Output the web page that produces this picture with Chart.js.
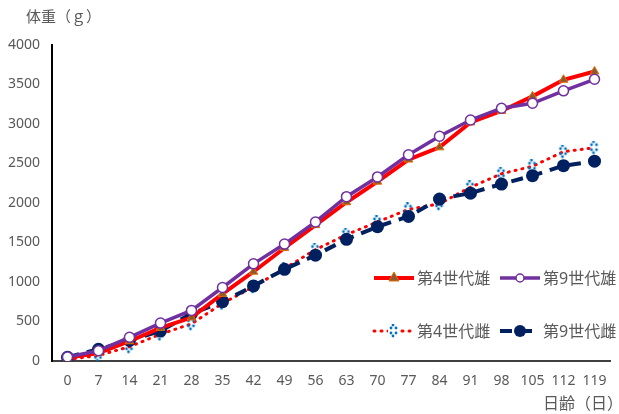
<!DOCTYPE html>
<html><head><meta charset="utf-8">
<script src="https://cdn.jsdelivr.net/npm/chart.js@4"></script>
<style>html,body{margin:0;padding:0;background:#fff}#wrap{width:619px;height:414px;position:relative}</style>
</head><body><div id="wrap"><canvas id="c" width="619" height="414"></canvas></div>
<script>
const days = [0,7,14,21,28,35,42,49,56,63,70,77,84,91,98,105,112,119];
const gen4Male   = [40,100,250,420,550,850,1130,1430,1720,2010,2270,2550,2705,3020,3165,3350,3560,3665];
const gen9Male   = [50,130,300,480,640,930,1230,1480,1760,2080,2330,2610,2845,3050,3200,3262,3420,3566];
const gen4Female = [20,70,180,340,470,730,940,1170,1410,1600,1760,1920,1990,2200,2370,2465,2650,2700];
const gen9Female = [47,148,260,380,600,750,950,1160,1340,1540,1700,1830,2050,2125,2240,2346,2472,2530];
const yTicks = [0,500,1000,1500,2000,2500,3000,3500,4000];
const labels = ['第4世代雄','第9世代雄','第4世代雌','第9世代雌'];
const FONT = "'Noto Sans','Noto Sans CJK JP',sans-serif";
const GRAY = '#595959';

function blueMarker(){
  const c=document.createElement('canvas');c.width=12;c.height=14;
  const x=c.getContext('2d');x.fillStyle='#0070C0';
  [[5,1],[3,4],[8,4],[3,9],[8,9],[5,12]].forEach(p=>{x.beginPath();x.arc(p[0],p[1],1.4,0,Math.PI*2);x.fill();});
  return c;
}
const bm = blueMarker();

const extra = {
  id:'extra',
  afterDraw(chart){
    const ctx=chart.ctx;ctx.save();
    ctx.fillStyle=GRAY;ctx.font="15px "+FONT;ctx.textBaseline='middle';
    ctx.textAlign='left';ctx.fillText('体重（ｇ）',26,18);
    ctx.font="16px "+FONT;
    ctx.fillText('日齢（日）',543,404);
    const rows=[[374,278],[500,278],[374,331],[500,331]];
    const ds=chart.data.datasets;
    rows.forEach((r,i)=>{
      const d=ds[i];const x0=r[0],y=r[1];
      ctx.save();
      ctx.strokeStyle=d.borderColor;ctx.lineWidth=d.borderWidth;
      ctx.setLineDash(d.borderDash||[]);ctx.lineCap=d.borderCapStyle||'butt';
      ctx.beginPath();ctx.moveTo(x0,y);ctx.lineTo(x0+40,y);ctx.stroke();
      ctx.setLineDash([]);
      const cx=x0+20;
      if(i===0){ctx.fillStyle='#8C5A2A';ctx.strokeStyle='#E36C09';ctx.lineWidth=1;ctx.beginPath();ctx.moveTo(cx,y-6);ctx.lineTo(cx+5,y+3);ctx.lineTo(cx-5,y+3);ctx.closePath();ctx.fill();ctx.stroke();}
      if(i===1){ctx.fillStyle='#fff';ctx.strokeStyle='#7030A0';ctx.lineWidth=1.5;ctx.beginPath();ctx.arc(cx,y,4,0,Math.PI*2);ctx.fill();ctx.stroke();}
      if(i===2){ctx.fillStyle='#fff';ctx.fillRect(cx-6,y-7,12,14);ctx.drawImage(bm,cx-6,y-7);}
      if(i===3){ctx.fillStyle='#002060';ctx.beginPath();ctx.arc(cx,y,6,0,Math.PI*2);ctx.fill();}
      ctx.restore();
      ctx.fillStyle=GRAY;ctx.font="16px "+FONT;ctx.textAlign='left';ctx.textBaseline='middle';
      ctx.fillText(labels[i],x0+43,y+1);
    });
    ctx.restore();
  }
};

new Chart(document.getElementById('c'),{
  type:'line',
  data:{labels:days.map(String),datasets:[
    {label:labels[0],data:gen4Male,borderColor:'#FF0000',borderWidth:4,pointStyle:'triangle',pointRadius:5,pointBackgroundColor:'#8C5A2A',pointBorderColor:'#E36C09',pointBorderWidth:1,order:2},
    {label:labels[1],data:gen9Male,borderColor:'#7030A0',borderWidth:3.5,pointStyle:'circle',pointRadius:5,pointBackgroundColor:'#fff',pointBorderColor:'#7030A0',pointBorderWidth:1.5,order:1},
    {label:labels[2],data:gen4Female,borderColor:'#FF0000',borderWidth:3,borderDash:[1,6],borderCapStyle:'round',pointStyle:bm,pointRadius:6,order:4},
    {label:labels[3],data:gen9Female,borderColor:'#002060',borderWidth:4,borderDash:[12,8],pointStyle:'circle',pointRadius:6.5,pointBackgroundColor:'#002060',pointBorderColor:'#002060',pointBorderWidth:0,order:3}
  ]},
  options:{
    responsive:false,animation:false,
    layout:{padding:{top:45,right:7,left:0,bottom:0}},
    plugins:{legend:{display:false},tooltip:{enabled:false}},
    elements:{line:{tension:0}},
    scales:{
      x:{offset:true,grid:{display:false,drawTicks:false},border:{color:'#404040',width:2},
        ticks:{color:GRAY,font:{size:14,family:FONT},padding:12,maxRotation:0,autoSkip:false},
        afterFit(s){s.height=53;}},
      y:{min:0,max:4000,grid:{display:false,drawTicks:false},border:{color:'#000',width:2},
        afterBuildTicks(s){s.ticks=yTicks.map(v=>({value:v}));},
        ticks:{color:GRAY,font:{size:14,family:FONT},padding:12,callback:v=>String(v)},
        afterFit(s){s.width=52;}}
    }
  },
  plugins:[extra]
});
</script></body></html>
